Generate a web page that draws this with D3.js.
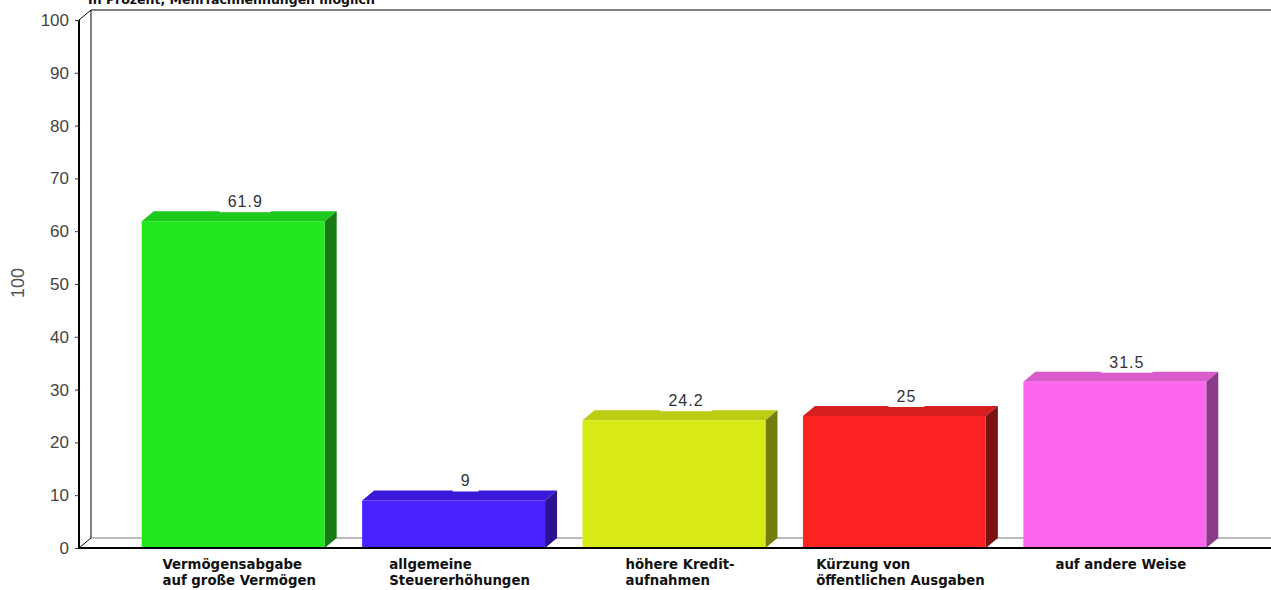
<!DOCTYPE html>
<html>
<head>
<meta charset="utf-8">
<script src="https://cdn.jsdelivr.net/npm/d3@7"></script>
<style>
  body { margin: 0; background: #fff; }
  svg { display: block; }
</style>
</head>
<body>
<svg id="chart" width="1271" height="590"></svg>
<script>
const title = "In Prozent, Mehrfachnennungen möglich";
const categories = [
  ["Vermögensabgabe", "auf große Vermögen"],
  ["allgemeine", "Steuererhöhungen"],
  ["höhere Kredit-", "aufnahmen"],
  ["Kürzung von", "öffentlichen Ausgaben"],
  ["auf andere Weise"]
];
const values = [61.9, 9, 24.2, 25, 31.5];
const yTicks = [0, 10, 20, 30, 40, 50, 60, 70, 80, 90, 100];
const frontColors = ["#22e61e", "#4a22ff", "#d8ea16", "#ff2424", "#ff66ee"];
const topColors = ["#1fc81c", "#3a1ad8", "#bccc12", "#d81f1f", "#d85ccc"];
const sideColors = ["#187a12", "#2a1290", "#757c0e", "#7a1212", "#8a3a86"];

const svg = d3.select("#chart");
const depth = { dx: 12, dy: -10 };
const y = d3.scaleLinear().domain([0, 100]).range([548, 20]);
const x = d3.scaleBand().domain(d3.range(values.length)).range([123, 1225])
  .paddingInner(0.17).paddingOuter(0.085);
const axisX = 79, rightEdge = 1271;

// title, cut off at top
svg.append("text").attr("x", 88).attr("y", 4)
  .attr("font-family", "DejaVu Sans, sans-serif").attr("font-weight", "bold")
  .attr("font-size", 12.5).attr("fill", "#111").text(title);

// back wall
const wall = svg.append("g").attr("fill", "none");
wall.append("line").attr("x1", axisX + depth.dx).attr("x2", axisX + depth.dx)
  .attr("y1", y(100) + depth.dy).attr("y2", y(0) + depth.dy).attr("stroke", "#000");
wall.append("line").attr("x1", axisX + depth.dx).attr("x2", rightEdge)
  .attr("y1", y(100) + depth.dy).attr("y2", y(100) + depth.dy).attr("stroke", "#000");
wall.append("line").attr("x1", axisX + depth.dx).attr("x2", rightEdge)
  .attr("y1", y(0) + depth.dy).attr("y2", y(0) + depth.dy).attr("stroke", "#777");
wall.append("line").attr("x1", axisX).attr("x2", axisX + depth.dx)
  .attr("y1", y(100)).attr("y2", y(100) + depth.dy).attr("stroke", "#000");
wall.append("line").attr("x1", axisX).attr("x2", axisX + depth.dx)
  .attr("y1", y(0)).attr("y2", y(0) + depth.dy).attr("stroke", "#000");

// bars
const bars = svg.append("g").selectAll("g").data(values).join("g");
bars.append("path").attr("fill", (d, i) => topColors[i])
  .attr("d", (d, i) => {
    const x0 = x(i), x1 = x(i) + x.bandwidth(), yt = y(d);
    return `M${x0},${yt}L${x0 + depth.dx},${yt + depth.dy}L${x1 + depth.dx},${yt + depth.dy}L${x1},${yt}Z`;
  });
bars.append("path").attr("fill", (d, i) => sideColors[i])
  .attr("d", (d, i) => {
    const x1 = x(i) + x.bandwidth(), yt = y(d), yb = y(0);
    return `M${x1},${yt}L${x1 + depth.dx},${yt + depth.dy}L${x1 + depth.dx},${yb + depth.dy}L${x1},${yb}Z`;
  });
bars.append("rect").attr("fill", (d, i) => frontColors[i])
  .attr("x", (d, i) => x(i)).attr("width", x.bandwidth())
  .attr("y", d => y(d)).attr("height", d => y(0) - y(d));

// value labels
const labels = svg.append("g").selectAll("g").data(values).join("g")
  .attr("transform", (d, i) => `translate(${x(i) + x.bandwidth() / 2 + depth.dx},${y(d) + depth.dy - 4})`);
labels.append("rect").attr("fill", "#fff");
labels.append("text").attr("text-anchor", "middle")
  .attr("font-family", "Liberation Sans, Arial, sans-serif").attr("font-size", 16)
  .attr("letter-spacing", 1).attr("fill", "#333").text(d => d);
labels.each(function () {
  const t = d3.select(this).select("text").node().getBBox();
  d3.select(this).select("rect").attr("x", t.x - 8).attr("y", t.y + 2)
    .attr("width", t.width + 16).attr("height", t.height);
});

// front axes
const yAxis = svg.append("g").attr("transform", `translate(${axisX},0)`)
  .call(d3.axisLeft(y).tickValues(yTicks).tickSize(4).tickPadding(6));
yAxis.select(".domain").attr("stroke", "#000").attr("stroke-width", 2)
  .attr("d", `M0,${y(100)}V${y(0)}`);
yAxis.selectAll(".tick line").attr("stroke", "#333");
yAxis.selectAll(".tick text").attr("font-family", "Liberation Sans, Arial, sans-serif")
  .attr("font-size", 17).attr("fill", "#444");

svg.append("line").attr("x1", axisX - 1).attr("x2", rightEdge)
  .attr("y1", y(0)).attr("y2", y(0)).attr("stroke", "#000").attr("stroke-width", 2);

svg.append("text").attr("transform", `translate(24,283) rotate(-90)`)
  .attr("text-anchor", "middle")
  .attr("font-family", "Liberation Sans Narrow, Liberation Sans, Arial, sans-serif")
  .attr("font-size", 18).attr("fill", "#555").text("100");

// category labels
const cats = svg.append("g").selectAll("text").data(categories).join("text")
  .attr("font-family", "DejaVu Sans, sans-serif").attr("font-weight", "bold")
  .attr("font-size", 13.3).attr("fill", "#111");
cats.each(function (lines, i) {
  const t = d3.select(this);
  lines.forEach((l, j) => t.append("tspan").attr("y", 569 + j * 16).text(l));
  const w = d3.max(t.selectAll("tspan").nodes(), n => n.getComputedTextLength());
  const cx = x(i) + x.bandwidth() / 2 + depth.dx / 2;
  t.selectAll("tspan").attr("x", cx - w / 2);
});
</script>
</body>
</html>
